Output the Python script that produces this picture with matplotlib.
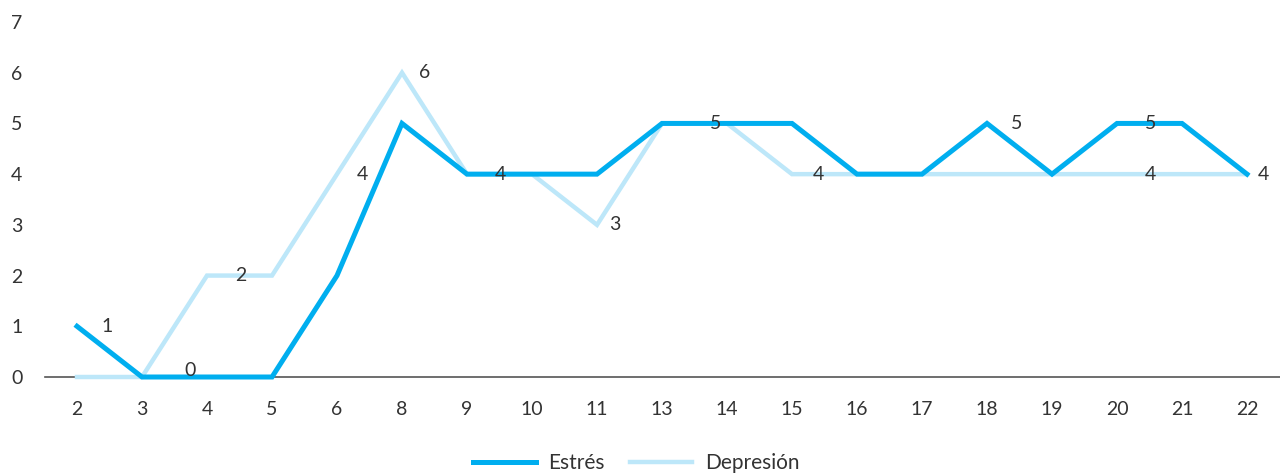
import matplotlib.pyplot as plt

categorias = ['2', '3', '4', '5', '6', '8', '9', '10', '11', '13',
              '14', '15', '16', '17', '18', '19', '20', '21', '22']
estres = [1, 0, 0, 0, 2, 5, 4, 4, 4, 5, 5, 5, 4, 4, 5, 4, 5, 5, 4]
depresion = [0, 0, 2, 2, 4, 6, 4, 4, 3, 5, 5, 4, 4, 4, 4, 4, 4, 4, 4]

# etiquetas visibles: (serie, indice, desplazamiento x, y en puntos)
etiquetas = [('e', 0, 22, 0), ('e', 2, -12, 5), ('d', 2, 24, 0), ('d', 4, 18, 0),
             ('d', 5, 16, 0), ('d', 6, 24, 0), ('d', 8, 13, 0), ('e', 10, -8, 0),
             ('d', 11, 19, 0), ('e', 14, 21, 0), ('e', 16, 24, 0), ('d', 16, 24, 0),
             ('d', 18, 12, 0)]

c_estres = '#00AEEF'
c_depresion = '#BDE7F9'

plt.rcParams['font.family'] = ['Lato', 'DejaVu Sans']

fig = plt.figure(figsize=(12.8, 4.76), dpi=100)
ax = fig.add_axes([44.5 / 1280, 1 - 377 / 476, 1235 / 1280, 355 / 476])

x = list(range(len(categorias)))
ax.plot(x, depresion, color=c_depresion, lw=3.2, label='Depresión',
        solid_joinstyle='miter', zorder=3, clip_on=False)
ax.plot(x, estres, color=c_estres, lw=3.6, label='Estrés',
        solid_joinstyle='miter', zorder=4, clip_on=False)

for serie, i, dx, dy in etiquetas:
    val = estres[i] if serie == 'e' else depresion[i]
    ax.annotate(str(val), (i, val), xytext=(dx, dy), textcoords='offset points',
                ha='center', va='center', fontsize=14, color='#333333', zorder=5)

ax.set_xlim(-0.5, len(categorias) - 0.5)
ax.set_ylim(0, 7)
ax.set_xticks(x)
ax.set_xticklabels(categorias)
ax.set_yticks(range(0, 8))
ax.tick_params(axis='both', length=0, labelsize=14, colors='#333333')
ax.tick_params(axis='x', pad=17)
ax.tick_params(axis='y', pad=16)

for s in ['top', 'right', 'left']:
    ax.spines[s].set_visible(False)
ax.spines['bottom'].set_color('#555555')
ax.spines['bottom'].set_linewidth(1.2)

h, l = ax.get_legend_handles_labels()
fig.legend(h[::-1], l[::-1], loc='center', bbox_to_anchor=(0.497, 1 - 463 / 476),
           ncol=2, frameon=False, prop={'size': 15}, handlelength=3.0,
           columnspacing=1.2, handletextpad=0.6, labelcolor='#333333')

fig.savefig('out.png', dpi=100)
